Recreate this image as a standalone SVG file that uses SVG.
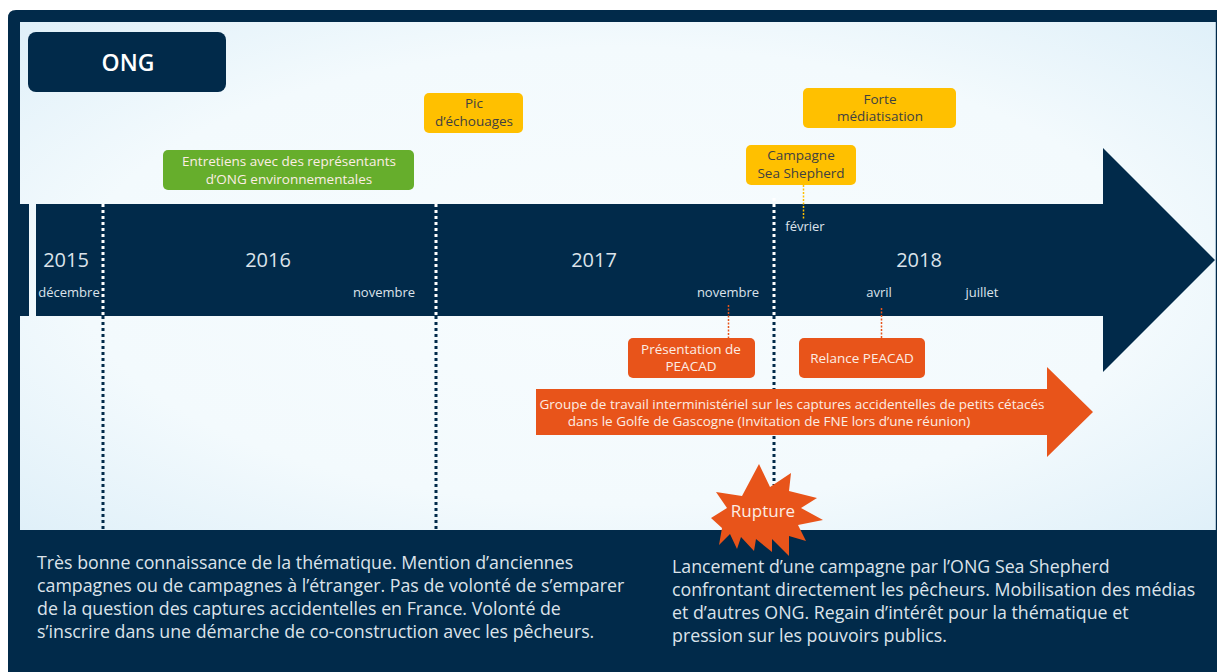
<svg xmlns="http://www.w3.org/2000/svg" width="1217" height="672" viewBox="0 0 1217 672">
<defs>
<radialGradient id="bg" cx="0.5" cy="0.5" r="0.75">
<stop offset="0" stop-color="#F7FCFE"/>
<stop offset="0.6" stop-color="#F3FAFD"/>
<stop offset="1" stop-color="#DCEEF8"/>
</radialGradient>
<style>
.t{font-family:"Open Sans","Noto Sans",sans-serif;}
.yr{font-size:20px;fill:#DCE3EA;text-anchor:middle;}
.mo{font-size:13px;fill:#DCE3EA;text-anchor:middle;}
.yb{fill:#FFC000;}
.ytx{font-size:13.5px;fill:#404040;text-anchor:middle;}
.ob{fill:#E8541A;}
.otx{font-size:13.5px;fill:#FCEDE4;text-anchor:middle;}
.para{font-size:17.8px;fill:#DCE3EA;}
.dn{stroke:#012A4A;stroke-width:3;stroke-dasharray:3 3;fill:none;}
.dw{stroke:#FFFFFF;stroke-width:3;stroke-dasharray:3 3;fill:none;}
</style>
</defs>
<rect x="0" y="0" width="1217" height="672" fill="#FFFFFF"/>
<path d="M8 18 Q8 10 16 10 L1217 10 L1217 672 L8 672 Z" fill="#012A4A"/>
<rect x="20" y="22" width="1196" height="508" fill="url(#bg)"/>
<line x1="1215.5" y1="22" x2="1215.5" y2="530" stroke="#AFC6D6" stroke-width="1"/>
<rect x="20" y="204" width="9" height="112" fill="#012A4A"/>

<g id="timeline">
<path d="M36 204 L1103 204 L1103 148 L1215 260 L1103 372 L1103 316 L36 316 Z" fill="#012A4A"/>
</g>

<g id="connectors">
<line class="dn" x1="103" y1="316" x2="103" y2="530"/>
<line class="dw" x1="103" y1="204" x2="103" y2="316"/>
<line class="dn" x1="436" y1="316" x2="436" y2="530"/>
<line class="dw" x1="436" y1="204" x2="436" y2="316"/>
<line class="dn" x1="774" y1="316" x2="774" y2="485"/>
<line class="dw" x1="774" y1="198" x2="774" y2="316"/>
<line x1="803.5" y1="185" x2="803.5" y2="219" stroke="#FFC000" stroke-width="1.5" stroke-dasharray="2 1.5"/>
<line x1="728.5" y1="305" x2="728.5" y2="338" stroke="#E8541A" stroke-width="1.5" stroke-dasharray="2 1.5"/>
<line x1="881.5" y1="308" x2="881.5" y2="338" stroke="#E8541A" stroke-width="1.5" stroke-dasharray="2 1.5"/>
</g>

<g id="labels" class="t">
<text class="yr" x="66" y="267">2015</text>
<text class="mo" x="69" y="297">décembre</text>
<text class="yr" x="268" y="267">2016</text>
<text class="mo" x="384" y="297">novembre</text>
<text class="yr" x="594" y="267">2017</text>
<text class="mo" x="728" y="297">novembre</text>
<text class="yr" x="919" y="267">2018</text>
<text class="mo" x="879" y="297">avril</text>
<text class="mo" x="982" y="297">juillet</text>
<text class="mo" x="805" y="231">février</text>
</g>

<g id="ong">
<rect x="28" y="32" width="198" height="60" rx="8" fill="#012A4A"/>
<text class="t" x="128" y="71" font-size="23" font-weight="600" fill="#FFFFFF" text-anchor="middle">ONG</text>
</g>

<g id="entretiens">
<rect x="163" y="150" width="251" height="40" rx="5" fill="#66AE2C"/>
<text class="t otx" x="289" y="166" font-size="13" fill="#F0F7E8">Entretiens avec des représentants</text>
<text class="t otx" x="289" y="184" font-size="13" fill="#F0F7E8">d’ONG environnementales</text>
</g>

<g id="pic">
<rect class="yb" x="424" y="93" width="99" height="40" rx="5"/>
<text class="t ytx" x="474" y="108">Pic</text>
<text class="t ytx" x="474" y="126">d’échouages</text>
</g>

<g id="forte">
<rect class="yb" x="803" y="88" width="153" height="40" rx="5"/>
<text class="t ytx" x="880" y="104">Forte</text>
<text class="t ytx" x="880" y="121">médiatisation</text>
</g>

<g id="campagne">
<rect class="yb" x="746" y="145" width="110" height="40" rx="5"/>
<text class="t ytx" x="801" y="160">Campagne</text>
<text class="t ytx" x="801" y="178">Sea Shepherd</text>
</g>

<g id="presentation">
<rect class="ob" x="628" y="338" width="127" height="40" rx="5"/>
<text class="t otx" x="691" y="354">Présentation de</text>
<text class="t otx" x="691" y="371">PEACAD</text>
</g>

<g id="relance">
<rect class="ob" x="799" y="338" width="126" height="40" rx="5"/>
<text class="t otx" x="862" y="363">Relance PEACAD</text>
</g>

<g id="groupe">
<path class="ob" d="M536 389 L1047 389 L1047 367 L1093 412 L1047 457 L1047 435 L536 435 Z"/>
<text class="t otx" x="792" y="409" font-size="12.8">Groupe de travail interministériel sur les captures accidentelles de petits cétacés</text>
<text class="t otx" x="769" y="426" font-size="12.8">dans le Golfe de Gascogne (Invitation de FNE lors d’une réunion)</text>
</g>

<g id="rupture">
<polygon class="ob" points="759,464 770,487 791,473 789,491 817,498 801,508 823,520 798,525 806,541 789,536 789,556 772,539 772,552 756,539 754,551 741,537 737,549 730,534 719,545 722,528 711,518 727,508 716,492 742,496"/>
<text class="t" x="763" y="517" font-size="17" fill="#FCEDE4" text-anchor="middle">Rupture</text>
</g>

<g id="para-left" class="t para">
<text x="37" y="569">Très bonne connaissance de la thématique. Mention d’anciennes</text>
<text x="37" y="592">campagnes ou de campagnes à l’étranger. Pas de volonté de s’emparer</text>
<text x="37" y="615">de la question des captures accidentelles en France. Volonté de</text>
<text x="37" y="638">s’inscrire dans une démarche de co-construction avec les pêcheurs.</text>
</g>

<g id="para-right" class="t para">
<text x="672" y="573">Lancement d’une campagne par l’ONG Sea Shepherd</text>
<text x="672" y="596">confrontant directement les pêcheurs. Mobilisation des médias</text>
<text x="672" y="619">et d’autres ONG. Regain d’intérêt pour la thématique et</text>
<text x="672" y="642">pression sur les pouvoirs publics.</text>
</g>
</svg>
